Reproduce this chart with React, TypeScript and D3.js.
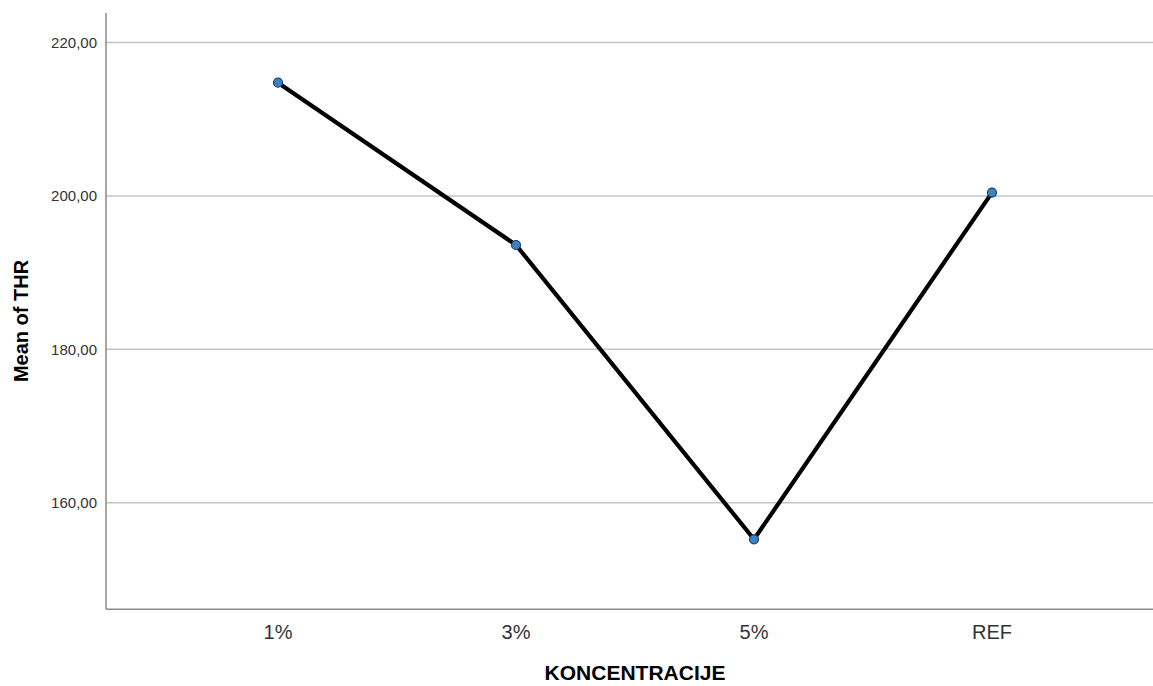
import React from "react";
import * as d3 from "d3";

const categories: string[] = ["1%", "3%", "5%", "REF"];
const meanTHR: number[] = [214.76, 193.6, 155.23, 200.43];
const yTicks: number[] = [160, 180, 200, 220];
const yDomain: [number, number] = [146.1, 223.85];
const xTitle = "KONCENTRACIJE";
const yTitle = "Mean of THR";

export default function App() {
  const W = 1153;
  const H = 686;
  const left = 106;
  const top = 13;
  const bottom = 609.3;
  const rightExtent = 1164;

  const x = d3
    .scalePoint<string>()
    .domain(categories)
    .range([left, rightExtent])
    .padding(0.7227);
  const y = d3.scaleLinear().domain(yDomain).range([bottom, top]);

  const line = d3
    .line<number>()
    .x((_, i) => x(categories[i]) as number)
    .y((d) => y(d));

  const fmt = (v: number) => v.toFixed(2).replace(".", ",");

  return (
    <svg
      width={W}
      height={H}
      style={{ position: "absolute", left: 0, top: 0, background: "#fff" }}
      fontFamily="'Liberation Sans', Arial, sans-serif"
    >
      {yTicks.map((t) => (
        <g key={t}>
          <line x1={left} x2={W} y1={y(t)} y2={y(t)} stroke="#c4c4c4" strokeWidth={1.5} />
          <text
            x={97}
            y={y(t)}
            dy="0.36em"
            textAnchor="end"
            fontSize={15}
            fill="#333"
          >
            {fmt(t)}
          </text>
        </g>
      ))}
      <line x1={left} x2={left} y1={top} y2={bottom} stroke="#8a8a8a" strokeWidth={1.5} />
      <line x1={left} x2={W} y1={bottom} y2={bottom} stroke="#8a8a8a" strokeWidth={1.5} />
      {categories.map((c) => (
        <text
          key={c}
          x={x(c) as number}
          y={639}
          textAnchor="middle"
          fontSize={20}
          fill="#333"
        >
          {c}
        </text>
      ))}
      <path d={line(meanTHR) || ""} fill="none" stroke="#000" strokeWidth={4.2} strokeLinejoin="round" />
      {meanTHR.map((v, i) => (
        <circle
          key={i}
          cx={x(categories[i]) as number}
          cy={y(v)}
          r={4.5}
          fill="#3b82c4"
          stroke="#1f3f66"
          strokeWidth={1.2}
        />
      ))}
      <text
        x={(left + rightExtent) / 2}
        y={680}
        textAnchor="middle"
        fontSize={21}
        fontWeight="bold"
        fill="#000"
      >
        {xTitle}
      </text>
      <text
        transform={`translate(28,321) rotate(-90)`}
        textAnchor="middle"
        fontSize={20}
        fontWeight="bold"
        fill="#000"
      >
        {yTitle}
      </text>
    </svg>
  );
}
